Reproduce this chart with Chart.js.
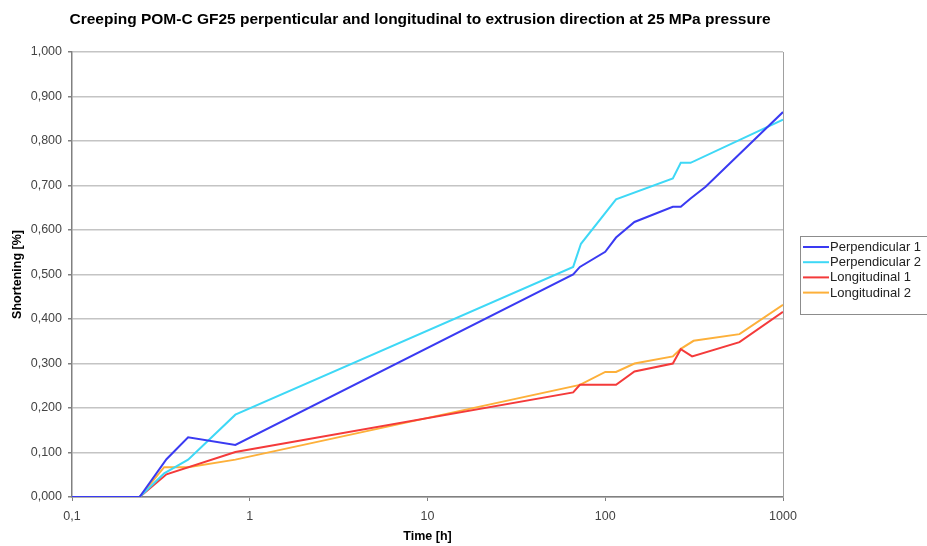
<!DOCTYPE html>
<html>
<head>
<meta charset="utf-8">
<script src="https://cdn.jsdelivr.net/npm/chart.js@4"></script>
<style>
  html, body { margin: 0; padding: 0; background: #fff; }
  #wrap { width: 927px; height: 546px; }
</style>
</head>
<body>
<div id="wrap"><canvas id="graphique" width="927" height="546"></canvas></div>
<script>
// time [h] and shortening [%] per series
const perp1T = [0.1, 0.24, 0.34, 0.45, 0.83, 66, 72, 100, 115, 146, 240, 266, 302, 367, 1000];
const perp1V = [0, 0, 0.085, 0.134, 0.117, 0.500, 0.517, 0.551, 0.583, 0.618, 0.652, 0.652, 0.671, 0.697, 0.865];

const perp2T = [0.1, 0.24, 0.33, 0.45, 0.83, 66, 73, 115, 240, 266, 302, 1000];
const perp2V = [0, 0, 0.053, 0.084, 0.185, 0.517, 0.569, 0.669, 0.716, 0.751, 0.751, 0.848];

const long1T = [0.1, 0.24, 0.34, 0.83, 66, 72, 115, 146, 240, 266, 308, 569, 1000];
const long1V = [0, 0, 0.051, 0.101, 0.235, 0.252, 0.252, 0.282, 0.300, 0.332, 0.316, 0.348, 0.416];

const long2T = [0.1, 0.24, 0.33, 0.45, 0.83, 72, 100, 115, 146, 240, 266, 314, 569, 1000];
const long2V = [0, 0, 0.067, 0.067, 0.084, 0.252, 0.281, 0.281, 0.300, 0.316, 0.333, 0.351, 0.366, 0.432];

const seriesNames = ['Perpendicular 1', 'Perpendicular 2', 'Longitudinal 1', 'Longitudinal 2'];
const xTicks = [0.1, 1, 10, 100, 1000];
const titleText = 'Creeping POM-C GF25 perpenticular and longitudinal to extrusion direction at 25 MPa pressure';

const colors = ['#3a3af2', '#3ed8f6', '#f43a3a', '#fdb03a'];
const FONT = 'Arial, "Liberation Sans", sans-serif';

function pts(t, v) { return t.map((x, i) => ({ x: x, y: v[i] })); }

const allSeries = [[perp1T, perp1V], [perp2T, perp2V], [long1T, long1V], [long2T, long2V]];

// titre + legende + bord droit dessines a la main
const decor = {
  id: 'decor',
  afterDraw(chart) {
    const c = chart.ctx;
    const a = chart.chartArea;
    c.save();
    // right border
    c.strokeStyle = '#a0a0a0';
    c.lineWidth = 1;
    c.beginPath();
    c.moveTo(a.right + 0.5, a.top);
    c.lineTo(a.right + 0.5, a.bottom);
    c.stroke();

    // title
    c.fillStyle = '#000';
    c.font = 'bold 15.5px ' + FONT;
    c.textAlign = 'center';
    c.textBaseline = 'middle';
    c.fillText(titleText, 420, 19.5);

    // legend
    c.strokeStyle = '#8c8c8c';
    c.strokeRect(800.5, 236.5, 140, 78);
    c.font = '13px ' + FONT;
    c.textAlign = 'left';
    chart.data.datasets.forEach((ds, i) => {
      const y = 247 + i * 15.2;
      c.strokeStyle = ds.borderColor;
      c.lineWidth = 2;
      c.beginPath();
      c.moveTo(803, y);
      c.lineTo(829, y);
      c.stroke();
      c.fillStyle = '#222';
      c.fillText(ds.label, 830, y + 0.5);
    });
    c.restore();
  }
};

new Chart(document.getElementById('graphique'), {
  type: 'scatter',
  data: {
    datasets: allSeries.map((s, i) => ({
      label: seriesNames[i],
      data: pts(s[0], s[1]),
      showLine: true,
      borderColor: colors[i],
      backgroundColor: colors[i],
      borderWidth: 2,
      pointRadius: 0,
      tension: 0
    }))
  },
  options: {
    responsive: false,
    animation: false,
    layout: { padding: { top: 52, right: 144, left: 0, bottom: 0 } },
    plugins: { legend: { display: false }, title: { display: false }, tooltip: { enabled: false } },
    scales: {
      x: {
        type: 'logarithmic',
        min: 0.1,
        max: 1000,
        afterBuildTicks: s => { s.ticks = xTicks.map(v => ({ value: v })); },
        afterFit: s => { s.height = 49; },
        grid: { drawOnChartArea: false, drawTicks: true, tickLength: 4, color: '#808080' },
        border: { color: '#808080', width: 1.5 },
        ticks: {
          color: '#444',
          font: { family: FONT, size: 12.5 },
          padding: 8,
          maxRotation: 0,
          autoSkip: false,
          callback: v => String(v).replace('.', ',')
        },
        title: {
          display: true,
          text: 'Time [h]',
          color: '#000',
          font: { family: FONT, size: 12.5, weight: 'bold' },
          padding: { top: 3, bottom: 2 }
        }
      },
      y: {
        min: 0,
        max: 1,
        afterFit: s => { s.width = 72; },
        ticks: {
          stepSize: 0.1,
          color: '#444',
          font: { family: FONT, size: 12.5 },
          padding: 6,
          callback: v => v.toFixed(3).replace('.', ',')
        },
        grid: { color: '#c4c4c4', lineWidth: 1.5, tickLength: 4, tickColor: '#808080' },
        border: { color: '#808080', width: 1.5 },
        title: {
          display: true,
          text: 'Shortening [%]',
          color: '#000',
          font: { family: FONT, size: 12.5, weight: 'bold' },
          padding: { top: 10, bottom: 0 }
        }
      }
    }
  },
  plugins: [decor]
});
</script>
</body>
</html>
